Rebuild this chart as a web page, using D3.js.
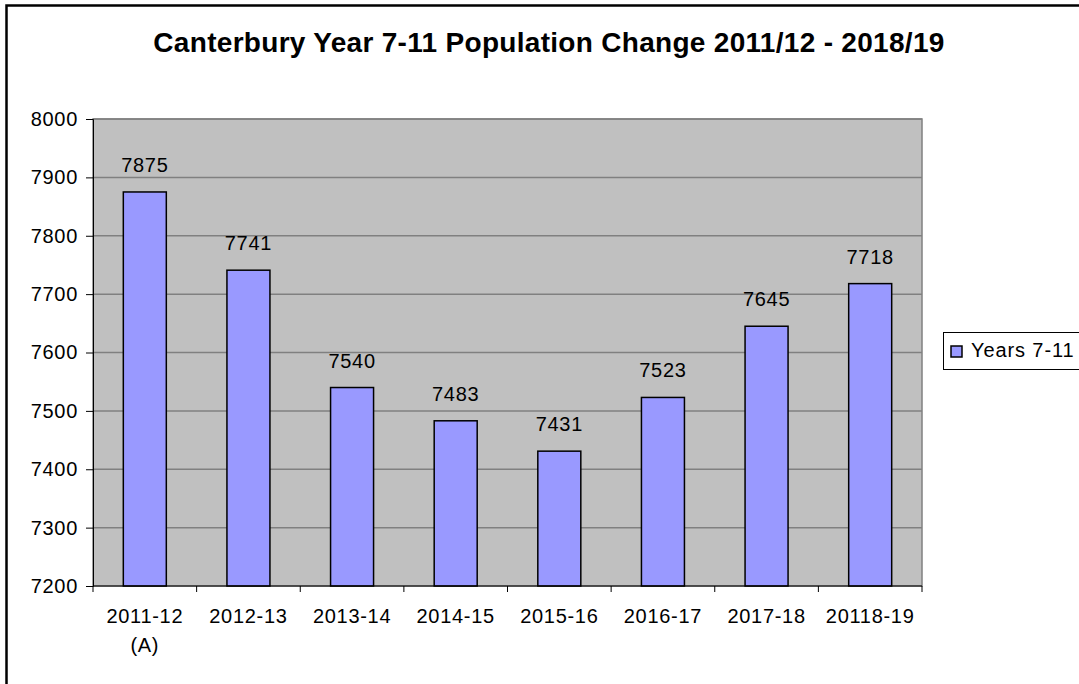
<!DOCTYPE html>
<html>
<head>
<meta charset="utf-8">
<script src="https://cdn.jsdelivr.net/npm/d3@7"></script>
<style>
  body { margin: 0; background: #fff; }
  svg { display: block; font-family: "Liberation Sans", Arial, sans-serif; }
</style>
</head>
<body>
<div id="chart"></div>
<script>
// ── data ──
const categories = ["2011-12\n(A)", "2012-13", "2013-14", "2014-15", "2015-16", "2016-17", "2017-18", "20118-19"];
const values     = [7875, 7741, 7540, 7483, 7431, 7523, 7645, 7718];
const yTicks     = [7200, 7300, 7400, 7500, 7600, 7700, 7800, 7900, 8000];
const seriesName = "Years 7-11";
const titleText  = "Canterbury Year 7-11 Population Change 2011/12 - 2018/19";

const W = 1079, H = 684;
const PLOT = { left: 93, top: 119, right: 922, bottom: 586 };
const BAR_FILL = "#9999ff";
const GRID = "#808080";
const LS = "0.7px";   // Excel-like looser letter spacing

const svg = d3.select("#chart").append("svg")
  .attr("width", W).attr("height", H);

// outer frame (right / bottom edges fall outside the picture)
svg.append("rect")
  .attr("x", 6.5).attr("y", 5.5)
  .attr("width", 1200).attr("height", 800)
  .attr("fill", "#fff").attr("stroke", "#000").attr("stroke-width", 2.5);

// title
svg.append("text")
  .attr("x", 549).attr("y", 52)
  .attr("text-anchor", "middle")
  .attr("font-weight", "bold")
  .attr("font-size", "28px")
  .attr("letter-spacing", "0.3px")
  .text(titleText);

const x = d3.scaleBand().domain(categories).range([PLOT.left, PLOT.right]).paddingInner(0).paddingOuter(0);
const y = d3.scaleLinear().domain([7200, 8000]).range([PLOT.bottom, PLOT.top]);
const barW = 43;

// plot background
svg.append("rect")
  .attr("x", PLOT.left).attr("y", PLOT.top)
  .attr("width", PLOT.right - PLOT.left).attr("height", PLOT.bottom - PLOT.top)
  .attr("fill", "#c0c0c0").attr("stroke", GRID).attr("stroke-width", 1.5);

// gridlines
svg.append("g")
  .selectAll("line").data(yTicks.filter(t => t > 7200)).join("line")
  .attr("x1", PLOT.left).attr("x2", PLOT.right)
  .attr("y1", d => y(d)).attr("y2", d => y(d))
  .attr("stroke", GRID).attr("stroke-width", 1.5);

// bars
svg.append("g")
  .selectAll("rect").data(values).join("rect")
  .attr("x", (d, i) => x(categories[i]) + x.bandwidth() / 2 - barW / 2)
  .attr("width", barW)
  .attr("y", d => y(d))
  .attr("height", d => y(7200) - y(d))
  .attr("fill", BAR_FILL).attr("stroke", "#000").attr("stroke-width", 1.5);

// value labels
svg.append("g")
  .selectAll("text").data(values).join("text")
  .attr("x", (d, i) => x(categories[i]) + x.bandwidth() / 2)
  .attr("y", d => y(d) - 20)
  .attr("text-anchor", "middle")
  .attr("font-size", "20px")
  .attr("letter-spacing", LS)
  .text(d => d);

// y axis
const yAxis = svg.append("g")
  .attr("transform", `translate(${PLOT.left},0)`)
  .call(d3.axisLeft(y).tickValues(yTicks).tickSize(7).tickPadding(8).tickFormat(d3.format("d")));
yAxis.selectAll("text").attr("font-size", "20px").attr("fill", "#000")
  .attr("font-family", null).attr("letter-spacing", LS);
yAxis.selectAll("line").attr("stroke", "#000");
yAxis.select(".domain").attr("stroke", "#000");

// x axis (ticks at band boundaries)
const boundaries = categories.map(c => x(c)).concat([PLOT.right]);
const xg = svg.append("g");
xg.append("line")
  .attr("x1", PLOT.left).attr("x2", PLOT.right)
  .attr("y1", PLOT.bottom).attr("y2", PLOT.bottom)
  .attr("stroke", "#000");
xg.selectAll(".tk").data(boundaries).join("line")
  .attr("class", "tk")
  .attr("x1", d => d).attr("x2", d => d)
  .attr("y1", PLOT.bottom).attr("y2", PLOT.bottom + 6)
  .attr("stroke", "#000");
const labels = xg.selectAll(".lbl").data(categories).join("text")
  .attr("class", "lbl")
  .attr("x", d => x(d) + x.bandwidth() / 2)
  .attr("y", 623)
  .attr("text-anchor", "middle")
  .attr("font-size", "20px")
  .attr("letter-spacing", LS);
labels.each(function (d) {
  const parts = d.split("\n");
  parts.forEach((p, i) => {
    d3.select(this).append("tspan")
      .attr("x", x(d) + x.bandwidth() / 2)
      .attr("dy", i === 0 ? 0 : 29)
      .text(p);
  });
});

// legend
const lg = svg.append("g");
lg.append("rect")
  .attr("x", 943.5).attr("y", 332.5)
  .attr("width", 200).attr("height", 37)
  .attr("fill", "#fff").attr("stroke", "#000");
lg.append("rect")
  .attr("x", 951).attr("y", 346)
  .attr("width", 11).attr("height", 11)
  .attr("fill", BAR_FILL).attr("stroke", "#000").attr("stroke-width", 1.5);
lg.append("text")
  .attr("x", 971).attr("y", 357)
  .attr("font-size", "20px")
  .attr("letter-spacing", "0.9px")
  .text(seriesName);
</script>
</body>
</html>
